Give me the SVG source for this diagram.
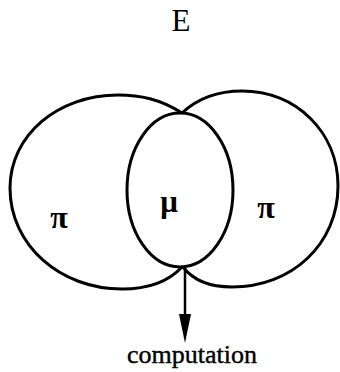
<svg xmlns="http://www.w3.org/2000/svg" width="340" height="372" viewBox="0 0 340 372">
<style>
.sh{fill:none;stroke:#000;stroke-width:3;stroke-linejoin:round}
.t{font-family:"Liberation Serif","Times New Roman",serif;fill:#000;text-anchor:middle}
.g{font-weight:bold}
</style>
<rect width="340" height="372" fill="#fff"/>
<g id="label-E"><text class="t" x="181" y="31" font-size="31">E</text></g>
<g id="left-pi">
<path class="sh" d="M182,113 C160,99 140,95 118,95 C58,95 10,135 10,188 C10,245 60,289 122,289 C150,289 170,280 182,267"/>
<text class="t g" x="59" y="228" font-size="32">π</text>
</g>
<g id="right-pi">
<path class="sh" d="M182,113 C198,98 218,91 242,91 C296,91 338,132 338,186 C338,244 292,287 232,287 C210,287 193,280 183,267"/>
<text class="t g" x="266" y="218" font-size="32">π</text>
</g>
<g id="mu">
<ellipse class="sh" cx="180" cy="190" rx="53" ry="77"/>
<text class="t g" x="169" y="212" font-size="31">μ</text>
</g>
<g id="connectors">
<line x1="185" y1="267" x2="185" y2="318" stroke="#000" stroke-width="2.5"/>
<polygon points="179,314 191,314 185,343" fill="#000"/>
</g>
<g id="label-computation"><text class="t" x="192" y="363" font-size="26" stroke="#000" stroke-width="0.4">computation</text></g>
</svg>
